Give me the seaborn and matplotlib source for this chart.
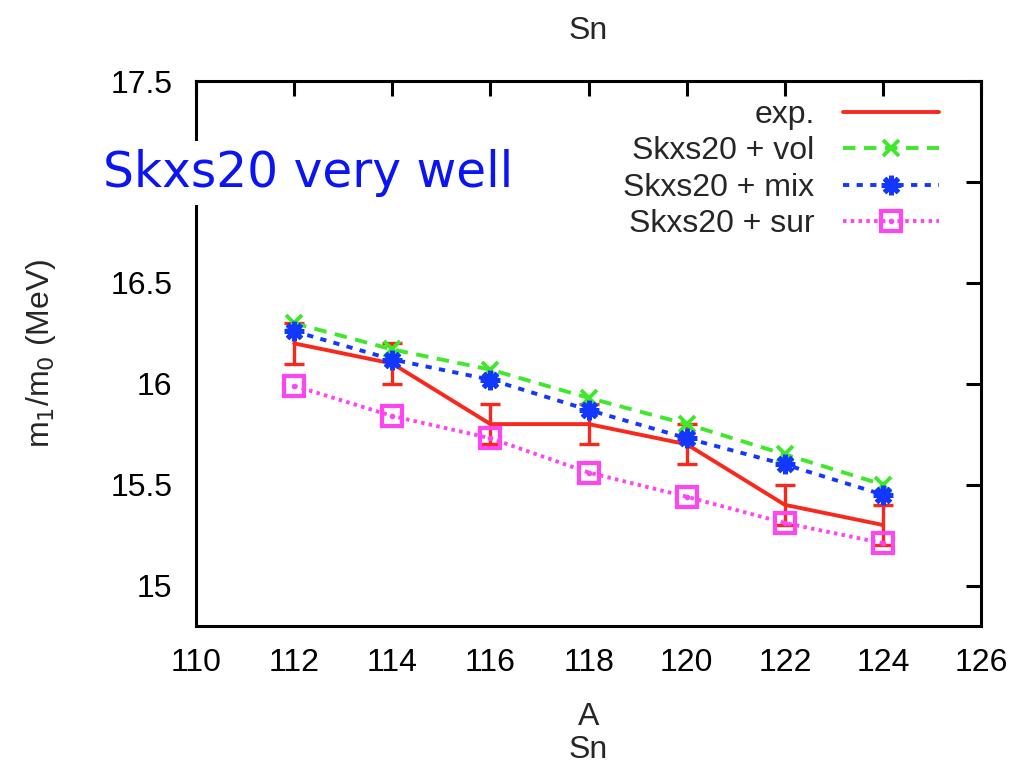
import matplotlib
matplotlib.use("Agg")
import matplotlib.pyplot as plt
from matplotlib.lines import Line2D
from matplotlib.legend_handler import HandlerTuple
import seaborn as sns
import numpy as np

# Sn isotopes: mass number A
mass_number = [112, 114, 116, 118, 120, 122, 124]

# m1/m0 centroid energies (MeV)
exp_values = [16.2, 16.1, 15.8, 15.8, 15.7, 15.4, 15.3]
exp_errors = [0.1, 0.1, 0.1, 0.1, 0.1, 0.1, 0.1]
vol_values = [16.30, 16.17, 16.07, 15.93, 15.80, 15.65, 15.50]
mix_values = [16.26, 16.12, 16.02, 15.87, 15.73, 15.60, 15.45]
sur_values = [15.99, 15.84, 15.73, 15.56, 15.44, 15.31, 15.21]

labels = ["exp.", "Skxs20 + vol", "Skxs20 + mix", "Skxs20 + sur"]
x_ticks = [110, 112, 114, 116, 118, 120, 122, 124, 126]
y_ticks = [15, 15.5, 16, 16.5, 17, 17.5]
# the 17 label sits under the annotation box
y_ticklabels = ["15", "15.5", "16", "16.5", "", "17.5"]

RED = "#f8281c"
GREEN = "#3fe82a"
BLUE = "#1238ff"
MAGENTA = "#ff44f4"

sns.set_style("white")
plt.rcParams["font.family"] = ["Liberation Sans", "DejaVu Sans"]
plt.rcParams["font.size"] = 23

fig = plt.figure(figsize=(10.21, 7.68), dpi=100)
ax = fig.add_axes([0.192, 0.185, 0.769, 0.7095])

# experimental data with error bars
sns.lineplot(x=mass_number, y=exp_values, ax=ax, color=RED, linewidth=2.8,
             zorder=3)
ax.errorbar(mass_number, exp_values, yerr=exp_errors, fmt="none",
            ecolor=RED, elinewidth=2.4, capsize=7, capthick=2.4, zorder=3)

# Skxs20 + vol
sns.lineplot(x=mass_number, y=vol_values, ax=ax, color=GREEN, linewidth=2.8,
             linestyle=(0, (3.2, 2.2)), marker="x", markersize=11,
             markeredgewidth=2.8, markeredgecolor=GREEN, zorder=4)
# Skxs20 + mix
sns.lineplot(x=mass_number, y=mix_values, ax=ax, color=BLUE, linewidth=2.8,
             linestyle=(0, (1.6, 1.9)), marker=(8, 2, 0), markersize=14,
             markeredgewidth=3.6, markeredgecolor=BLUE, zorder=5)
# Skxs20 + sur
sns.lineplot(x=mass_number, y=sur_values, ax=ax, color=MAGENTA, linewidth=2.8,
             linestyle=(0, (0.9, 1.1)), marker="s", markersize=14,
             markerfacecolor="none", markeredgewidth=3.0,
             markeredgecolor=MAGENTA, zorder=4)
ax.plot(mass_number, sur_values, linestyle="none", marker="o", markersize=3,
        color=MAGENTA, zorder=4)

ax.set_xlim(110, 126)
ax.set_ylim(14.8, 17.5)
ax.set_xticks(x_ticks)
ax.set_yticks(y_ticks)
ax.set_yticklabels(y_ticklabels)
ax.tick_params(direction="in", length=11, width=2.2, top=True, right=True,
               labelsize=23, colors="black")
ax.tick_params(axis="x", pad=16)
ax.tick_params(axis="y", pad=17)
for sp in ax.spines.values():
    sp.set_linewidth(2.2)
    sp.set_color("black")

ax.set_xlabel("A", fontsize=23, labelpad=17)
ax.set_ylabel(r"m$_1$/m$_0$ (MeV)", fontsize=23, labelpad=38)
ax.set_title("Sn", fontsize=23, pad=30)
fig.text(0.5765, 0.024, "Sn", fontsize=23, ha="center", va="center")

# legend: text on the left, line sample on the right
h_exp = Line2D([], [], color=RED, linewidth=2.8)
h_vol = Line2D([], [], color=GREEN, linewidth=2.8, linestyle=(0, (3.2, 2.2)),
               marker="x", markersize=11, markeredgewidth=2.8)
h_mix = Line2D([], [], color=BLUE, linewidth=2.8, linestyle=(0, (1.6, 1.9)),
               marker=(8, 2, 0), markersize=14, markeredgewidth=3.6)
h_sur = Line2D([], [], color=MAGENTA, linewidth=2.8, linestyle=(0, (0.9, 1.1)),
               marker="s", markersize=14, markerfacecolor="none",
               markeredgewidth=3.0)
h_dot = Line2D([], [], color=MAGENTA, linestyle="none", marker="o",
               markersize=3)
ax.legend([h_exp, h_vol, h_mix, (h_sur, h_dot)], labels,
          handler_map={tuple: HandlerTuple(ndivide=1, pad=0)},
          loc="upper right", bbox_to_anchor=(0.9465, 0.965),
          borderaxespad=0, borderpad=0, frameon=False, markerfirst=False,
          handlelength=3.0, handletextpad=0.9, labelspacing=0.2,
          fontsize=23)

fig.text(0.101, 0.775, "Skxs20 very well", fontsize=35, color="#0a14f5",
         ha="left", va="center", family=["DejaVu Sans"],
         bbox=dict(facecolor="white", edgecolor="none", pad=6), zorder=10)

fig.savefig("out.png", dpi=100)
